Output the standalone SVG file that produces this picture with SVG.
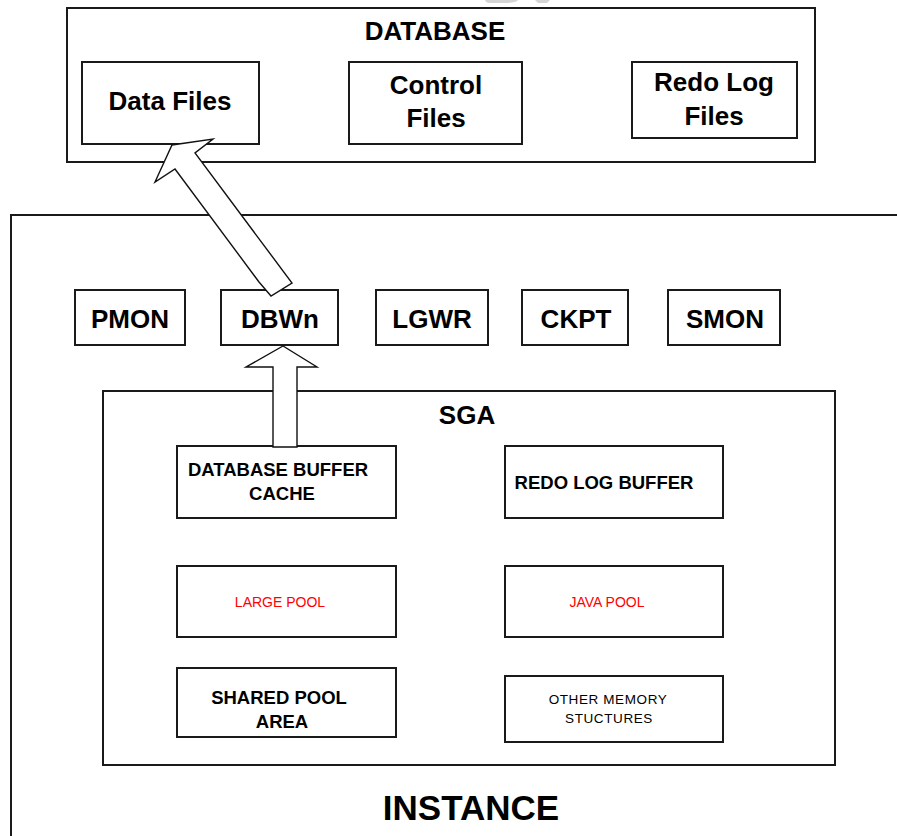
<svg xmlns="http://www.w3.org/2000/svg" width="897" height="836" viewBox="0 0 897 836">
  <style>
    .box { fill: #ffffff; stroke: #1a1a1a; stroke-width: 2; }
    .frame { fill: none; stroke: #1a1a1a; stroke-width: 2; }
    .arrow { fill: #ffffff; stroke: #111111; stroke-width: 1.4; stroke-linejoin: miter; }
    .t { font-family: "Liberation Sans", Arial, sans-serif; font-weight: bold; fill: #000000; text-anchor: middle; }
    .big { font-size: 26px; }
    .mid { font-size: 18.5px; }
    .pool { font-family: "Liberation Sans", Arial, sans-serif; font-size: 14px; fill: #ff0000; text-anchor: middle; }
    .small { font-family: "Liberation Sans", Arial, sans-serif; font-size: 13.5px; fill: #000000; text-anchor: middle; letter-spacing: 0.6px; }
  </style>

  <rect width="897" height="836" fill="#ffffff"/>

  <!-- faint mark along the top edge -->
  <path d="M485 0 H518 Q516 3 505 3 H490 Q486 3 485 0 Z" fill="#d4d4d4"/>
  <path d="M535 0 H550 L547 3 H538 Z" fill="#d4d4d4"/>

  <!-- DATABASE container -->
  <g id="database">
    <rect class="frame" x="67" y="8" width="748" height="154"/>
    <text class="t big" x="435" y="40">DATABASE</text>
  </g>

  <g id="data-files">
    <rect class="box" x="82" y="62" width="177" height="82"/>
    <text class="t big" x="170" y="110">Data Files</text>
  </g>

  <g id="control-files">
    <rect class="box" x="349" y="62" width="173" height="82"/>
    <text class="t big" x="436" y="94">Control</text>
    <text class="t big" x="436" y="127">Files</text>
  </g>

  <g id="redo-log-files">
    <rect class="box" x="632" y="62" width="165" height="76"/>
    <text class="t big" x="714" y="91">Redo Log</text>
    <text class="t big" x="714" y="125">Files</text>
  </g>

  <!-- INSTANCE container (runs past the right and bottom edges) -->
  <g id="instance">
    <path class="frame" d="M900 215 H11 V840"/>
    <text class="t" x="471" y="820" style="font-size:35px">INSTANCE</text>
  </g>

  <!-- background processes -->
  <g id="pmon">
    <rect class="box" x="75" y="290" width="110" height="55"/>
    <text class="t big" x="130" y="328">PMON</text>
  </g>
  <g id="dbwn">
    <rect class="box" x="221" y="290" width="117" height="55"/>
    <text class="t big" x="280" y="328">DBWn</text>
  </g>
  <g id="lgwr">
    <rect class="box" x="376" y="290" width="112" height="55"/>
    <text class="t big" x="432" y="328">LGWR</text>
  </g>
  <g id="ckpt">
    <rect class="box" x="522" y="290" width="106" height="55"/>
    <text class="t big" x="576" y="328">CKPT</text>
  </g>
  <g id="smon">
    <rect class="box" x="668" y="290" width="112" height="55"/>
    <text class="t big" x="725" y="328">SMON</text>
  </g>

  <!-- SGA container -->
  <g id="sga">
    <rect class="frame" x="103" y="391" width="732" height="374"/>
    <text class="t big" x="467" y="424">SGA</text>
  </g>

  <g id="db-buffer-cache">
    <rect class="box" x="177" y="446" width="219" height="72"/>
    <text class="t mid" x="278" y="476">DATABASE BUFFER</text>
    <text class="t mid" x="282" y="500">CACHE</text>
  </g>

  <g id="redo-log-buffer">
    <rect class="box" x="505" y="446" width="218" height="72"/>
    <text class="t mid" x="604" y="489">REDO LOG BUFFER</text>
  </g>

  <g id="large-pool">
    <rect class="box" x="177" y="566" width="219" height="71"/>
    <text class="pool" x="280" y="607">LARGE POOL</text>
  </g>

  <g id="java-pool">
    <rect class="box" x="505" y="566" width="218" height="71"/>
    <text class="pool" x="607" y="607">JAVA POOL</text>
  </g>

  <g id="shared-pool">
    <rect class="box" x="177" y="668" width="219" height="69"/>
    <text class="t mid" x="279" y="704">SHARED POOL</text>
    <text class="t mid" x="282" y="728">AREA</text>
  </g>

  <g id="other-memory">
    <rect class="box" x="505" y="676" width="218" height="66"/>
    <text class="small" x="608" y="704">OTHER MEMORY</text>
    <text class="small" x="609" y="723">STUCTURES</text>
  </g>

  <!-- block arrows -->
  <g id="connectors">
    <!-- buffer cache up to DBWn -->
    <polygon class="arrow" points="273,447 273,367 246,367 283,346 317,367 297,367 297,447"/>
    <!-- DBWn up to Data Files -->
    <polygon class="arrow" points="259,282 271,296 292,283 195,153 213,139 172,145 155,182 175,169"/>
  </g>
</svg>
